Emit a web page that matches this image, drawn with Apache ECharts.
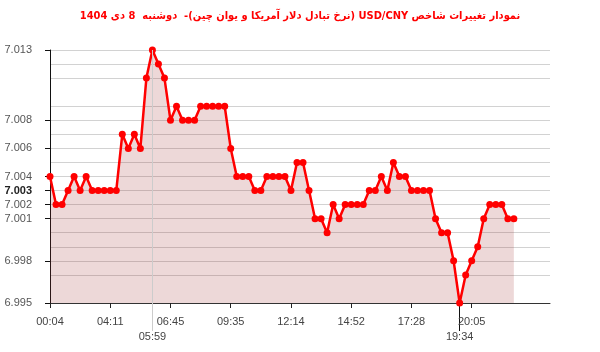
<!DOCTYPE html>
<html><head><meta charset="utf-8">
<script src="https://cdn.jsdelivr.net/npm/echarts@6/dist/echarts.min.js"></script>
<style>html,body{margin:0;padding:0;background:#fff}#c{width:600px;height:352px}</style>
</head><body><div id="c"></div>
<script>
const titleText = 'نمودار تغییرات شاخص USD/CNY (نرخ تبادل دلار آمریکا و یوان چین)-  دوشنبه  8 دی 1404';
// values, one per sample (evenly spaced samples through the day)
const values = [
  7.004, 7.002, 7.002, 7.003, 7.004, 7.003, 7.004, 7.003, 7.003, 7.003,
  7.003, 7.003, 7.007, 7.006, 7.007, 7.006, 7.011, 7.013, 7.012, 7.011,
  7.008, 7.009, 7.008, 7.008, 7.008, 7.009, 7.009, 7.009, 7.009, 7.009,
  7.006, 7.004, 7.004, 7.004, 7.003, 7.003, 7.004, 7.004, 7.004, 7.004,
  7.003, 7.005, 7.005, 7.003, 7.001, 7.001, 7.000, 7.002, 7.001, 7.002,
  7.002, 7.002, 7.002, 7.003, 7.003, 7.004, 7.003, 7.005, 7.004, 7.004,
  7.003, 7.003, 7.003, 7.003, 7.001, 7.000, 7.000, 6.998, 6.995, 6.997,
  6.998, 6.999, 7.001, 7.002, 7.002, 7.002, 7.001, 7.001
];
// x tick labels: [sample index, time]
const xTicks = [[0,'00:04'],[10,'04:11'],[20,'06:45'],[30,'09:35'],[40,'12:14'],[50,'14:52'],[60,'17:28'],[70,'20:05']];
const maxMark = [17, '05:59'];
const minMark = [68, '19:34'];
const yLabels = [7.013, 7.008, 7.006, 7.004, 7.003, 7.002, 7.001, 6.998, 6.995];
const yBold = 7.003;
const xSlots = 83;
const yMin = 6.995, yMax = 7.013;

const gridLevels = Array.from(new Set(values)).sort((a,b)=>a-b);
const xTickMap = Object.fromEntries(xTicks);
const seriesData = values.map((v,i)=>[i,v]);
const FONT = 'Liberation Sans, Arial, sans-serif';

const chart = echarts.init(document.getElementById('c'), null, {renderer:'canvas'});
chart.setOption({
  animation:false,
  title:{text:'\u202B' + titleText + '\u202C',left:'center',top:6,textStyle:{color:'#ff0000',fontWeight:'bold',fontSize:11,fontFamily:'DejaVu Sans Condensed, DejaVu Sans'}},
  grid:{left:50,right:50,top:50,bottom:49,containLabel:false},
  xAxis:[
    {type:'value',min:0,max:xSlots,position:'bottom',
     axisLine:{show:true,lineStyle:{color:'#333',width:1}},
     axisTick:{show:true,length:5,lineStyle:{color:'#222'},customValues:xTicks.map(t=>t[0])},
     axisLabel:{show:true,customValues:xTicks.map(t=>t[0]),formatter:v=>xTickMap[v]||'',margin:13,fontSize:11,color:'#444',fontFamily:FONT},
     splitLine:{show:false}},
    {type:'value',min:0,max:xSlots,position:'bottom',
     axisLine:{show:false},
     axisTick:{show:true,length:28,lineStyle:{color:'#cccccc'},customValues:[maxMark[0]]},
     axisLabel:{show:true,customValues:[maxMark[0]],formatter:()=>maxMark[1],margin:28,fontSize:11,color:'#444',fontFamily:FONT},
     splitLine:{show:false}},
    {type:'value',min:0,max:xSlots,position:'bottom',
     axisLine:{show:false},
     axisTick:{show:true,length:28,lineStyle:{color:'#111'},customValues:[minMark[0]]},
     axisLabel:{show:true,customValues:[minMark[0]],formatter:()=>minMark[1],margin:28,fontSize:11,color:'#444',fontFamily:FONT},
     splitLine:{show:false}}
  ],
  yAxis:[
    {type:'value',min:yMin,max:yMax,interval:0.001,
     axisLine:{show:true,lineStyle:{color:'#111'}},
     axisTick:{show:true,length:5,lineStyle:{color:'#111'},customValues:yLabels},
     axisLabel:{show:true,customValues:yLabels,margin:18,fontSize:11,color:'#555',fontFamily:FONT,
       formatter:v=>Math.abs(v-yBold)<1e-9?'{b|'+v.toFixed(3)+'}':v.toFixed(3),
       rich:{b:{fontWeight:'bold',fontSize:11,color:'#222',fontFamily:FONT}}},
     splitLine:{show:false}},
    {type:'value',min:yMin,max:yMax,interval:0.001,position:'left',
     axisLine:{show:false},
     axisTick:{show:false,customValues:gridLevels},
     axisLabel:{show:false,customValues:gridLevels},
     splitLine:{show:true,lineStyle:{color:'#d2d2d2',width:1}}}
  ],
  series:[{
    type:'line',xAxisIndex:0,yAxisIndex:0,data:seriesData,
    symbol:'circle',symbolSize:7,showSymbol:true,
    lineStyle:{color:'#ff0000',width:2.5},
    itemStyle:{color:'#ff0000'},
    areaStyle:{color:'rgba(160,50,50,0.27)',origin:'start'},
    markLine:{silent:true,symbol:'none',label:{show:false},
      lineStyle:{color:'#cccccc',width:1,type:'solid'},
      data:[{xAxis:maxMark[0]}]}
  }]
});
</script></body></html>
